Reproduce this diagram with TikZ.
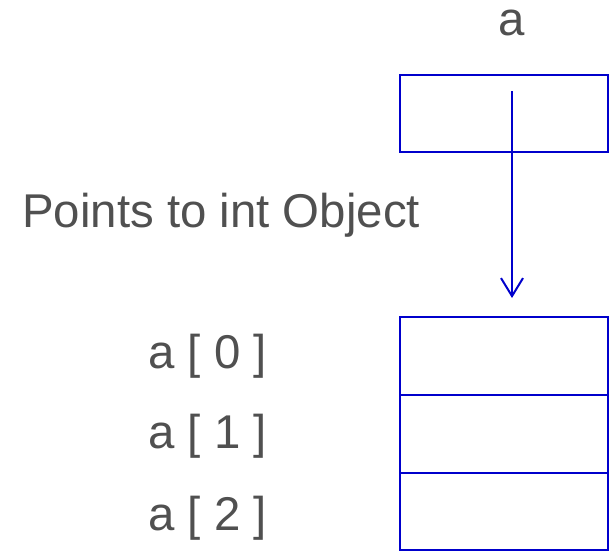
\documentclass[tikz,border=0pt]{standalone}
\usepackage{fontspec}
\setmainfont{Liberation Sans}
\usetikzlibrary{arrows.meta}
\definecolor{boxblue}{HTML}{0000CC}
\definecolor{txtgray}{HTML}{505050}
\begin{document}
\begin{tikzpicture}[x=1pt,y=-1pt,
  cell/.style={draw=boxblue,line width=2pt,minimum width=208pt,inner sep=0pt,outer sep=0pt},
  lbl/.style={text=txtgray,inner sep=0pt,font=\fontsize{47.4}{56}\selectfont},
  ptr/.style={draw=boxblue,line width=2pt,-{Straight Barb[length=18pt,width=22pt,line width=2pt]}}]
\useasboundingbox (0,0) rectangle (612,550);
\node[lbl,anchor=base] (alabel) at (512,35) {a};
\node[cell,minimum height=77pt] (ptrbox) at (504,113.5) {};
\node[lbl,anchor=base west] (note) at (22,227) {Points to int Object};
\node[cell,minimum height=78pt] (c0) at (504,356) {};
\node[cell,minimum height=78pt] (c1) at (504,434) {};
\node[cell,minimum height=77pt] (c2) at (504,511.5) {};
\node[lbl,anchor=base west] (l0) at (148,368) {a [ 0 ]};
\node[lbl,anchor=base west] (l1) at (148,448) {a [ 1 ]};
\node[lbl,anchor=base west] (l2) at (148,530) {a [ 2 ]};
\coordinate (src) at (512,91);
\coordinate (dst) at (512,298);
\draw[ptr] (src) -- (dst);
\end{tikzpicture}
\end{document}
